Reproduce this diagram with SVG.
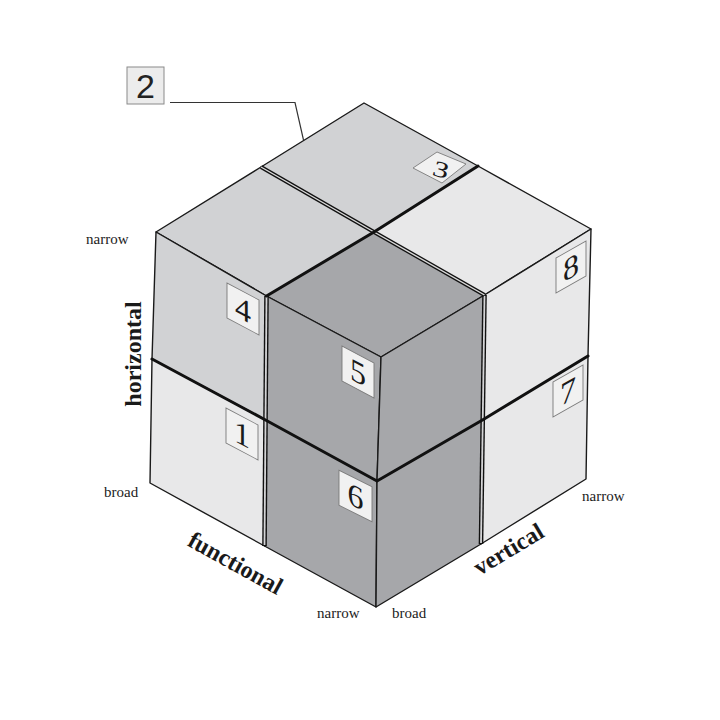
<svg xmlns="http://www.w3.org/2000/svg" width="720" height="720" viewBox="0 0 720 720">
<style>
.lt{fill:#e8e8e9;stroke:#1a1a1a;stroke-width:1.4;stroke-linejoin:round}
.md{fill:#d1d2d4;stroke:#1a1a1a;stroke-width:1.4;stroke-linejoin:round}
.dk{fill:#a6a7aa;stroke:#1a1a1a;stroke-width:1.4;stroke-linejoin:round}
.thick{fill:none;stroke:#111;stroke-width:3;stroke-linecap:round;stroke-linejoin:round}
.dbl{fill:none;stroke:#111;stroke-width:4;stroke-linecap:butt}
.dbl-in{fill:none;stroke:#dadada;stroke-width:1.4}
.strip{fill:none;stroke:#111;stroke-width:4.6}
.strip-in{fill:none;stroke:#d4d4d6;stroke-width:1.8}
.tag{fill:#f1f1f1;stroke:#7a7a7a;stroke-width:0.9}
.num{font-family:"Liberation Serif",serif;font-size:32px;fill:#1a1a1a;text-anchor:middle}
.small{font-family:"Liberation Serif",serif;font-size:15px;fill:#222}
.axis{font-family:"Liberation Serif",serif;font-weight:bold;font-size:24px;fill:#1a1a1a;text-anchor:middle}
</style>
<rect width="720" height="720" fill="#ffffff"/>

<!-- top faces -->
<g id="cube-3">
  <polygon class="md" points="364,103 478,166 374,232 261,167"/>
  <polygon class="tag" points="413,168 437,152 466,164 442,183"/>
  <text class="num" style="font-size:29px" transform="translate(439 177) rotate(16) scale(1.1 0.78)">3</text>
</g>
<g id="cube-4">
  <polygon class="md" points="261,167 374,232 266.5,296 156,232"/>
  <polygon class="md" points="156,232 266.5,296 265.5,420 152,359"/>
  <g transform="matrix(1 0.53 0 1 243 309)">
    <rect class="tag" x="-16" y="-17.5" width="32" height="35"/>
    <text class="num" x="0" y="11">4</text>
  </g>
</g>
<g id="cube-8">
  <polygon class="lt" points="478,166 591,229 484.5,295 374,232"/>
  <polygon class="lt" points="484.5,295 591,229 588,356 482.5,420"/>
  <g transform="matrix(1 -0.57 0 1 571 267)">
    <rect class="tag" x="-15" y="-17.5" width="30" height="35"/>
    <text class="num" x="0" y="11">8</text>
  </g>
</g>
<g id="cube-1">
  <polygon class="lt" points="152,359 265.5,420 264.5,546 150,483"/>
  <g transform="matrix(1 0.53 0 1 242 434)">
    <rect class="tag" x="-16" y="-17.5" width="32" height="35"/>
    <text class="num" x="0" y="11">1</text>
  </g>
</g>
<g id="cube-7">
  <polygon class="lt" points="482.5,420 588,356 586,479 481,544"/>
  <g transform="matrix(1 -0.57 0 1 568 391)">
    <rect class="tag" x="-15" y="-17.5" width="30" height="35"/>
    <text class="num" x="0" y="11">7</text>
  </g>
</g>
<g id="cube-6">
  <polygon class="dk" points="265.5,420 377,481 376,607 264.5,546"/>
  <polygon class="dk" points="377,481 482.5,420 481,544 376,607"/>
  <g transform="matrix(1 0.5 0 1 355.5 496)">
    <rect class="tag" x="-16.5" y="-17.5" width="33" height="35"/>
    <text class="num" x="0" y="11">6</text>
  </g>
</g>
<g id="cube-5">
  <polygon class="dk" points="374,232 484.5,295 381,357 266.5,296"/>
  <polygon class="dk" points="266.5,296 381,357 377,481 265.5,420"/>
  <polygon class="dk" points="381,357 484.5,295 482.5,420 377,481"/>
  <g transform="matrix(1 0.53 0 1 358 372)">
    <rect class="tag" x="-16" y="-17.5" width="32" height="35"/>
    <text class="num" x="0" y="11">5</text>
  </g>
</g>

<!-- seams between the blocks -->
<g id="seams">
  <line class="strip" x1="266.5" y1="296" x2="264.5" y2="546"/>
  <line class="strip-in" x1="266.5" y1="297" x2="264.5" y2="545"/>
  <line class="strip" x1="484.5" y1="295" x2="481" y2="544"/>
  <line class="strip-in" x1="484.5" y1="296" x2="481" y2="543"/>
  <line class="dbl" x1="261" y1="167" x2="374" y2="232"/>
  <line class="dbl-in" x1="261" y1="167" x2="374" y2="232"/>
  <line class="dbl" x1="374" y1="232" x2="484.5" y2="295"/>
  <line class="dbl-in" x1="374" y1="232" x2="484.5" y2="295"/>
  <polyline class="thick" points="478,166 374,232 266.5,296"/>
  <polyline class="thick" points="152,359 265.5,420 377,481 482.5,420 588,356"/>
</g>

<g id="cube-2">
  <rect x="127" y="67" width="37" height="37" fill="#ececec" stroke="#8a8a8a" stroke-width="1"/>
  <text x="145.5" y="98" font-family="Liberation Sans, Arial, sans-serif" font-size="34" fill="#222" text-anchor="middle">2</text>
</g>

<g id="connectors">
  <polyline points="170,102.5 295,102.5 303.5,140" fill="none" stroke="#333" stroke-width="1.2"/>
</g>

<g id="axis-labels">
  <text class="small" x="86" y="244">narrow</text>
  <text class="small" x="104" y="497">broad</text>
  <text class="small" x="317" y="618">narrow</text>
  <text class="small" x="392" y="618">broad</text>
  <text class="small" x="582" y="501">narrow</text>
  <text class="axis" transform="translate(141 354) rotate(-90)">horizontal</text>
  <text class="axis" transform="translate(235 564) rotate(29)" y="7">functional</text>
  <text class="axis" transform="translate(509 550) rotate(-31)" y="7">vertical</text>
</g>
</svg>
